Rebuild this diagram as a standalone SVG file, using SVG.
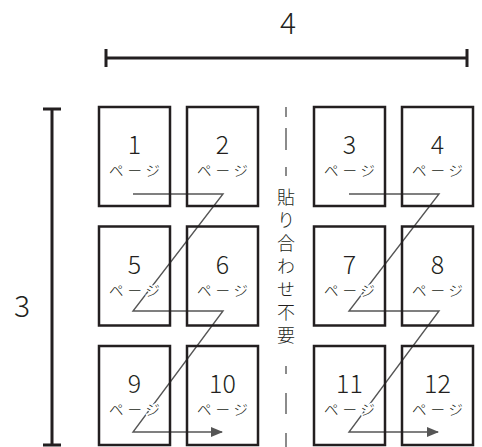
<svg xmlns="http://www.w3.org/2000/svg" width="482" height="447" viewBox="0 0 482 447">
<style>
.box{fill:none;stroke:#231f20;stroke-width:2.5}
.num{font-family:"Noto Sans CJK JP","Noto Sans",sans-serif;font-weight:300;font-size:25px;fill:#231f20;text-anchor:middle}
.kana{font-family:"Noto Sans CJK JP",sans-serif;font-weight:300;font-size:14.5px;fill:#231f20;text-anchor:middle;letter-spacing:4px;stroke:#fff;stroke-width:3;paint-order:stroke}
.dim{stroke:#231f20;stroke-width:3;fill:none}
.dimt{font-family:"Noto Sans CJK JP","Noto Sans",sans-serif;font-weight:300;font-size:30px;fill:#231f20;text-anchor:middle}
.flow{fill:none;stroke:#555;stroke-width:1.4}
.dash{stroke:#666;stroke-width:1.5}
.vt{font-family:"Noto Sans CJK JP",sans-serif;font-weight:300;font-size:18px;fill:#231f20;writing-mode:vertical-rl;letter-spacing:5px}
</style>
<defs>
<marker id="arr" viewBox="0 0 12 10" refX="11" refY="5" markerWidth="12" markerHeight="10" markerUnits="userSpaceOnUse" orient="auto">
<path d="M0,0 L12,5 L0,10 Z" fill="#555"/>
</marker>
</defs>
<g id="dimensions">
<path class="dim" d="M106,58 H467 M106,49 V67 M467,49 V67"/>
<text class="dimt" x="288" y="34">4</text>
<path class="dim" d="M52,109 V445 M43,109 H61 M43,445 H61"/>
<text class="dimt" x="22" y="317">3</text>
</g>
<g id="connectors">
<path class="flow" d="M133,194 H223 L133,311 H223 L133,432 H222" marker-end="url(#arr)"/>
<path class="flow" d="M349,194 H439 L349,311 H439 L349,432 H438" marker-end="url(#arr)"/>
</g>
<g id="p1"><rect class="box" x="99" y="107" width="71" height="99"/><text class="num" x="134.5" y="154">1</text><text class="kana" x="136.5" y="176">ページ</text></g>
<g id="p2"><rect class="box" x="187" y="107" width="71" height="99"/><text class="num" x="222.5" y="154">2</text><text class="kana" x="224.5" y="176">ページ</text></g>
<g id="p3"><rect class="box" x="314" y="107" width="71" height="99"/><text class="num" x="349.5" y="154">3</text><text class="kana" x="351.5" y="176">ページ</text></g>
<g id="p4"><rect class="box" x="402" y="107" width="71" height="99"/><text class="num" x="437.5" y="154">4</text><text class="kana" x="439.5" y="176">ページ</text></g>
<g id="p5"><rect class="box" x="99" y="226.5" width="71" height="99"/><text class="num" x="134.5" y="273.5">5</text><text class="kana" x="136.5" y="295.5">ページ</text></g>
<g id="p6"><rect class="box" x="187" y="226.5" width="71" height="99"/><text class="num" x="222.5" y="273.5">6</text><text class="kana" x="224.5" y="295.5">ページ</text></g>
<g id="p7"><rect class="box" x="314" y="226.5" width="71" height="99"/><text class="num" x="349.5" y="273.5">7</text><text class="kana" x="351.5" y="295.5">ページ</text></g>
<g id="p8"><rect class="box" x="402" y="226.5" width="71" height="99"/><text class="num" x="437.5" y="273.5">8</text><text class="kana" x="439.5" y="295.5">ページ</text></g>
<g id="p9"><rect class="box" x="99" y="346" width="71" height="99"/><text class="num" x="134.5" y="393">9</text><text class="kana" x="136.5" y="415">ページ</text></g>
<g id="p10"><rect class="box" x="187" y="346" width="71" height="99"/><text class="num" x="222.5" y="393">10</text><text class="kana" x="224.5" y="415">ページ</text></g>
<g id="p11"><rect class="box" x="314" y="346" width="71" height="99"/><text class="num" x="349.5" y="393">11</text><text class="kana" x="351.5" y="415">ページ</text></g>
<g id="p12"><rect class="box" x="402" y="346" width="71" height="99"/><text class="num" x="437.5" y="393">12</text><text class="kana" x="439.5" y="415">ページ</text></g>
<g id="divider">
<path class="dash" d="M286,107 V117 M286,128 V150 M286,167 V176 M286,366 V374 M286,393 V414 M286,433 V447"/>
<text class="vt" x="286" y="188">貼り合わせ不要</text>
</g>
</svg>
